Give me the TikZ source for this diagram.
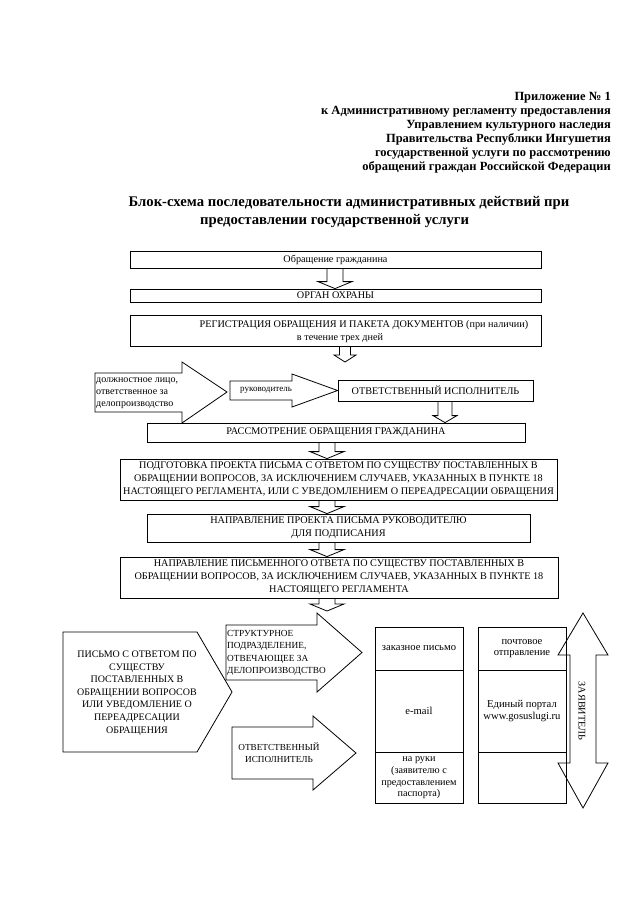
\documentclass[tikz,border=0pt]{standalone}
\usepackage{fontspec}
\setmainfont{Liberation Serif}
\usetikzlibrary{calc}
\newcommand\boxfont{\fontsize{10.2}{13}\selectfont}
\newcommand\lowfont{\fontsize{10}{12.6}\selectfont}
\newcommand\tabfont{\fontsize{10.6}{11.8}\selectfont}
\tikzset{
  blk/.style={draw, line width=0.8pt, line join=miter},
  box/.style={draw, line width=0.8pt, inner sep=0pt, align=center, font=\boxfont},
  txt/.style={inner sep=0pt, align=center, font=\boxfont},
  cell/.style={box, font=\tabfont, minimum width=88pt},
}
% block arrow pointing down: x, top anchor, bottom anchor, shaft half width, head half width
\newcommand\bdown[5]{%
  \draw[blk] let \p1=(#1,0 |- #2), \p2=(#1,0 |- #3) in
    (\x1-#4pt,\y1) -- (\x1-#4pt,\y2+7pt) -- (\x1-#5pt,\y2+7pt) -- (\x1,\y2)
    -- (\x1+#5pt,\y2+7pt) -- (\x1+#4pt,\y2+7pt) -- (\x1+#4pt,\y1);}
\begin{document}
\begin{tikzpicture}[x=1pt,y=-1pt]
\useasboundingbox (0,0) rectangle (640,905);
\fill[white] (0,0) rectangle (640,905);

% header (base = baseline of the last line)
\node[anchor=base east, align=right, inner sep=0pt, font=\bfseries\fontsize{12.5}{14}\selectfont] (hdr) at (611,170.5)
  {Приложение № 1\\к Административному регламенту предоставления\\Управлением культурного наследия\\Правительства Республики Ингушетия\\государственной услуги по рассмотрению\\обращений граждан Российской Федерации};

% title
\node[anchor=base, inner sep=0pt, font=\bfseries\fontsize{14.7}{18}\selectfont] (t1) at (349,206)
  {Блок-схема последовательности административных действий при};
\node[anchor=base west, inner sep=0pt, font=\bfseries\fontsize{14.7}{18}\selectfont] (t2) at (200,224)
  {предоставлении государственной услуги};

% flow
\node[box, minimum width=411pt, minimum height=17pt] (b1) at (335.5,259.5) {Обращение гражданина};
\node[box, minimum width=411pt, minimum height=13pt] (b2) at (335.5,295.5) {ОРГАН ОХРАНЫ};
\node[box, minimum width=411pt, minimum height=31pt] (b3) at (335.5,330.5) {};
\node[txt] (b3a) at (364,325) {РЕГИСТРАЦИЯ ОБРАЩЕНИЯ И ПАКЕТА ДОКУМЕНТОВ (при наличии)};
\node[txt] (b3b) at (340,338) {в течение трех дней};

\bdown{335}{b1.south}{b2.north}{8}{17}
\coordinate (c3) at (345,362);
\bdown{345}{b3.south}{c3}{5.5}{11}

% big arrow
\draw[blk] (95,373) -- (182,373) -- (182,362) -- (227,392) -- (182,423) -- (182,412) -- (95,412) -- cycle;
\node[txt, align=left, anchor=west, font=\fontsize{10}{12}\selectfont] (a1t) at (96,393)
  {должностное лицо,\\ответственное за\\делопроизводство};

\node[box, minimum width=195pt, minimum height=21pt] (b4) at (435.5,390.5) {ОТВЕТСТВЕННЫЙ ИСПОЛНИТЕЛЬ};
\draw[blk] (230,381) -- (292,381) -- (292,374) -- (b4.west) -- (292,407) -- (292,400) -- (230,400) -- cycle;
\node[txt, anchor=west, font=\fontsize{9}{11}\selectfont] (a2t) at (240,390.5) {руководитель};

\node[box, minimum width=378pt, minimum height=19pt] (b5) at (336,432.5) {РАССМОТРЕНИЕ ОБРАЩЕНИЯ ГРАЖДАНИНА};
\bdown{445}{b4.south}{b5.north}{7}{12}

\node[box, minimum width=437pt, minimum height=41pt] (b6) at (338.5,479.5)
  {ПОДГОТОВКА ПРОЕКТА ПИСЬМА С ОТВЕТОМ ПО СУЩЕСТВУ ПОСТАВЛЕННЫХ В\\ОБРАЩЕНИИ ВОПРОСОВ, ЗА ИСКЛЮЧЕНИЕМ СЛУЧАЕВ, УКАЗАННЫХ В ПУНКТЕ 18\\НАСТОЯЩЕГО РЕГЛАМЕНТА, ИЛИ С УВЕДОМЛЕНИЕМ О ПЕРЕАДРЕСАЦИИ ОБРАЩЕНИЯ};
\bdown{327}{b5.south}{b6.north}{8}{17}

\node[box, minimum width=383pt, minimum height=28pt] (b7) at (338.5,528)
  {НАПРАВЛЕНИЕ ПРОЕКТА ПИСЬМА РУКОВОДИТЕЛЮ\\ДЛЯ ПОДПИСАНИЯ};
\bdown{327}{b6.south}{b7.north}{8}{17}

\node[box, minimum width=438pt, minimum height=41pt] (b8) at (339,577.5)
  {НАПРАВЛЕНИЕ ПИСЬМЕННОГО ОТВЕТА ПО СУЩЕСТВУ ПОСТАВЛЕННЫХ В\\ОБРАЩЕНИИ ВОПРОСОВ, ЗА ИСКЛЮЧЕНИЕМ СЛУЧАЕВ, УКАЗАННЫХ В ПУНКТЕ 18\\НАСТОЯЩЕГО РЕГЛАМЕНТА};
\bdown{327}{b7.south}{b8.north}{8}{17}
\coordinate (c8) at (327,611);
\bdown{327}{b8.south}{c8}{8}{17}

% lower part
\draw[blk] (63,632) -- (197,632) -- (232,692) -- (197,752) -- (63,752) -- cycle;
\node[txt, font=\lowfont] (pt) at (137,693)
  {ПИСЬМО С ОТВЕТОМ ПО\\СУЩЕСТВУ\\ПОСТАВЛЕННЫХ В\\ОБРАЩЕНИИ ВОПРОСОВ\\ИЛИ УВЕДОМЛЕНИЕ О\\ПЕРЕАДРЕСАЦИИ\\ОБРАЩЕНИЯ};

\draw[blk] (226,625) -- (317,625) -- (317,613) -- (362,652.5) -- (317,692) -- (317,680) -- (226,680) -- cycle;
\node[txt, align=left, anchor=base west, font=\fontsize{9.3}{12.5}\selectfont] (st) at (227,673.5)
  {СТРУКТУРНОЕ\\ПОДРАЗДЕЛЕНИЕ,\\ОТВЕЧАЮЩЕЕ ЗА\\ДЕЛОПРОИЗВОДСТВО};

\draw[blk] (232,727) -- (313,727) -- (313,716) -- (356,753) -- (313,790) -- (313,779) -- (232,779) -- cycle;
\node[txt, font=\fontsize{9.2}{12}\selectfont] (ot) at (279,753) {ОТВЕТСТВЕННЫЙ\\ИСПОЛНИТЕЛЬ};

% table
\node[cell, minimum height=43pt] (c11) at (419,648.5) {заказное письмо};
\node[cell, minimum height=82pt] (c12) at (419,711) {e-mail};
\node[cell, minimum height=51pt, font=\fontsize{10.2}{11.6}\selectfont] (c13) at (419,778) {на руки\\(заявителю с\\предоставлением\\паспорта)};
\node[cell, minimum height=43pt, font=\fontsize{10.6}{11.5}\selectfont] (c21) at (522,648.5) {почтовое\\отправление};
\node[cell, minimum height=82pt, font=\fontsize{10.6}{11.5}\selectfont] (c22) at (522,711) {Единый портал\\www.gosuslugi.ru};
\node[cell, minimum height=51pt] (c23) at (522,777.5) {};

% double arrow
\draw[blk] (583,613) -- (608,655) -- (596,655) -- (596,763) -- (608,763) -- (583,808)
  -- (558,763) -- (570,763) -- (570,655) -- (558,655) -- cycle;
\node[txt, rotate=-90] (zv) at (582,711) {ЗАЯВИТЕЛЬ};
\end{tikzpicture}
\end{document}
